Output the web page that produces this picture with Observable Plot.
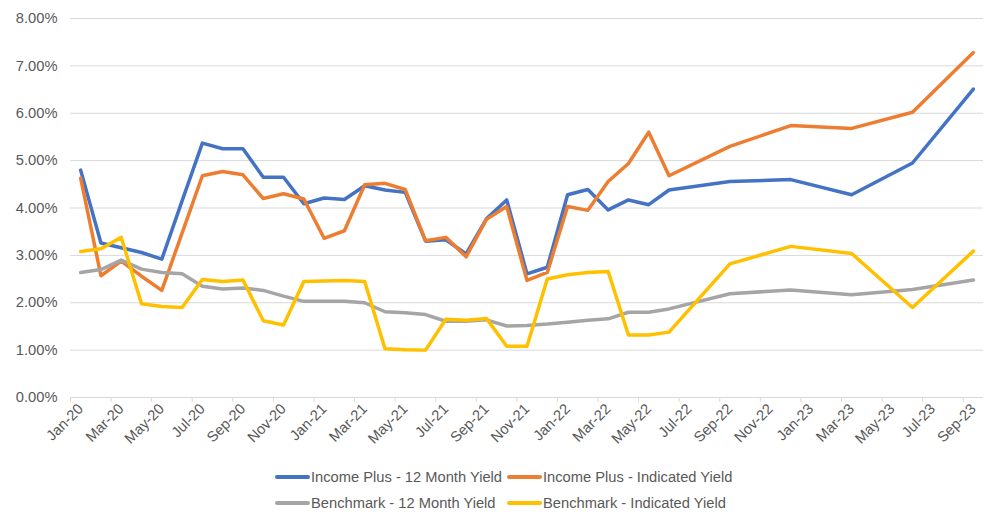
<!DOCTYPE html>
<html><head><meta charset="utf-8">
<script src="https://cdn.jsdelivr.net/npm/d3@7"></script>
<script src="https://cdn.jsdelivr.net/npm/@observablehq/plot@0.6"></script>
<style>
body{margin:0;background:#fff;font-family:"Liberation Sans",Arial,sans-serif;}
#legend{display:grid;grid-template-columns:232px auto;grid-auto-rows:26px;padding-left:275px;margin-top:6px;font-size:14.7px;color:#595959;}
.item{display:flex;align-items:center;white-space:nowrap;}
.sw{width:35px;height:4px;border-radius:2px;margin-right:1px;}
</style></head><body>
<div id="chart"></div>
<div id="legend"></div>
<script>
const months = ["2020-01","2020-02","2020-03","2020-04","2020-05","2020-06","2020-07","2020-08","2020-09","2020-10","2020-11","2020-12",
"2021-01","2021-02","2021-03","2021-04","2021-05","2021-06","2021-07","2021-08","2021-09","2021-10","2021-11","2021-12",
"2022-01","2022-02","2022-03","2022-04","2022-05","2022-06","2022-09","2022-12","2023-03","2023-06","2023-09"];

const seriesNames = ["Income Plus - 12 Month Yield","Income Plus - Indicated Yield","Benchmark - 12 Month Yield","Benchmark - Indicated Yield"];
const seriesColors = ["#4472C4","#ED7D31","#A5A5A5","#FFC000"];

const incomePlus12M = [4.80,3.26,3.16,3.06,2.92,4.15,5.37,5.25,5.25,4.65,4.65,4.09,4.21,4.18,4.47,4.38,4.33,3.30,3.33,3.03,3.77,4.17,2.61,2.75,4.28,4.39,3.96,4.17,4.07,4.38,4.56,4.60,4.28,4.95,6.51];
const incomePlusInd = [4.63,2.57,2.88,2.56,2.26,3.47,4.68,4.77,4.70,4.20,4.30,4.19,3.36,3.52,4.49,4.52,4.39,3.31,3.38,2.97,3.76,4.03,2.47,2.64,4.03,3.95,4.56,4.94,5.60,4.68,5.30,5.74,5.68,6.02,7.28];
const bench12M = [2.64,2.70,2.90,2.71,2.64,2.61,2.35,2.29,2.31,2.26,2.14,2.03,2.03,2.03,2.00,1.81,1.79,1.75,1.61,1.61,1.64,1.51,1.52,1.55,1.59,1.63,1.66,1.80,1.80,1.87,2.19,2.27,2.17,2.28,2.48];
const benchInd = [3.08,3.14,3.38,1.98,1.92,1.90,2.49,2.45,2.48,1.62,1.53,2.45,2.46,2.47,2.45,1.03,1.01,1.00,1.65,1.63,1.67,1.08,1.08,2.50,2.59,2.64,2.66,1.32,1.32,1.38,2.82,3.19,3.04,1.90,3.09];

const tickLabels = ["Jan-20","Mar-20","May-20","Jul-20","Sep-20","Nov-20","Jan-21","Mar-21","May-21","Jul-21","Sep-21","Nov-21",
"Jan-22","Mar-22","May-22","Jul-22","Sep-22","Nov-22","Jan-23","Mar-23","May-23","Jul-23","Sep-23"];
const yTicks = [0,1,2,3,4,5,6,7,8];

const allValues = [incomePlus12M, incomePlusInd, bench12M, benchInd];
const monthIndex = m => { const [y, mo] = m.split("-").map(Number); return (y - 2020) * 12 + (mo - 1); };
const nCats = monthIndex("2023-09") + 1;

const rows = [];
allValues.forEach((vals, s) => vals.forEach((v, j) => rows.push({series: seriesNames[s], i: monthIndex(months[j]), v})));

const labelPos = tickLabels.map((_, k) => k * 2);
const tickBounds = labelPos.map(p => p - 0.5);

const lines = seriesNames.map((name, s) => Plot.line(rows.filter(r => r.series === name), {
  x: "i", y: "v", stroke: seriesColors[s], strokeWidth: 3.5, strokeLinejoin: "round", strokeLinecap: "round"
}));

const chart = Plot.plot({
  width: 990, height: 458,
  marginLeft: 70, marginRight: 7, marginTop: 18, marginBottom: 61,
  style: {fontFamily: "Liberation Sans, Arial, sans-serif", fontSize: "14.7px", color: "#595959", background: "#fff"},
  x: {type: "linear", domain: [-0.5, nCats - 0.5]},
  y: {domain: [0, 8]},
  marks: [
    Plot.gridY(yTicks, {stroke: "#d9d9d9", strokeOpacity: 1, strokeWidth: 1}),
    Plot.axisY(yTicks, {tickSize: 0, tickPadding: 13, tickFormat: d => d.toFixed(2) + "%", fill: "#595959", label: null}),
    Plot.ruleY([0], {stroke: "#d9d9d9"}),
    Plot.axisX(tickBounds, {tickSize: 5, tickFormat: () => "", stroke: "#d9d9d9", label: null}),
    Plot.axisX(labelPos, {tickSize: 0, tickRotate: -45, tickPadding: 9, tickFormat: d => tickLabels[Math.round(d / 2)], fill: "#595959", label: null}),
    ...lines
  ]
});
document.getElementById("chart").appendChild(chart);

const legend = document.getElementById("legend");
[0, 1, 2, 3].forEach(s => {
  const it = document.createElement("div");
  it.className = "item";
  it.innerHTML = `<span class="sw" style="background:${seriesColors[s]}"></span><span>${seriesNames[s]}</span>`;
  legend.appendChild(it);
});
</script>
</body></html>
